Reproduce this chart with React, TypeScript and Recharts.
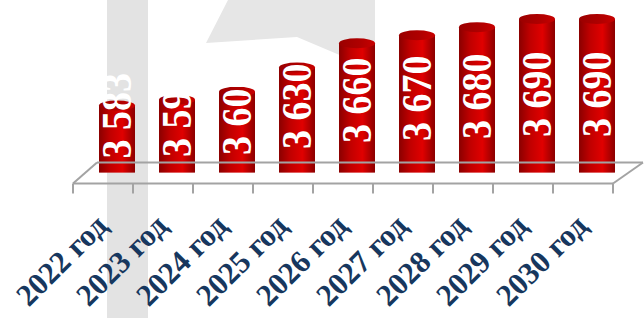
import React from 'react';
import { BarChart, Bar, XAxis, YAxis, LabelList } from 'recharts';

const categories = ['2022 год', '2023 год', '2024 год', '2025 год', '2026 год', '2027 год', '2028 год', '2029 год', '2030 год'];
const values = [3583, 3590, 3600, 3630, 3660, 3670, 3680, 3690, 3690];
const valueLabels = ['3 583', '3 590', '3 600', '3 630', '3 660', '3 670', '3 680', '3 690', '3 690'];
const yDomain: [number, number] = [3500, 3700];

const data = categories.map((name, i) => ({ name, value: values[i], label: valueLabels[i] }));

const W = 644;
const H = 318;
const AXIS_COLOR = '#a3a3a3';
const LABEL_COLOR = '#17375E';
const SERIF = '"Liberation Serif", "Times New Roman", serif';

const Cylinder = (props: any) => {
  const { x, y, width, height } = props;
  if (width == null || height == null) return null;
  const cx = x + width / 2;
  const rx = width / 2;
  return (
    <g>
      <rect x={x} y={y} width={width} height={height} fill="url(#cylBody)" />
      <ellipse cx={cx} cy={y + height} rx={rx} ry={4.5} fill="url(#cylBody)" />
      <ellipse cx={cx} cy={y} rx={rx} ry={5} fill="url(#cylTop)" />
    </g>
  );
};

const ValueLabel = (props: any) => {
  const { x, y, width, height, index } = props;
  if (width == null || height == null) return null;
  const cx = x + width / 2;
  const bottom = y + height;
  const start = bottom - (14 + 0.25 * (height - 67));
  return (
    <text
      transform={`translate(${cx},${start}) scale(1.1,1) rotate(-90)`}
      dy="0.34em"
      textAnchor="start"
      fill="#ffffff"
      fontFamily={SERIF}
      fontWeight="bold"
      fontSize={38}
    >
      {valueLabels[index]}
    </text>
  );
};

const FloorTick = (props: any) => {
  const { x, y, payload, index } = props;
  const n = categories.length;
  const half = 30;
  const fy = y + 11;
  const by = y - 10;
  const backStart = index === 0 ? x - 20 : x - half + 13;
  const backEnd = index === n - 1 ? x + 46 : x + half + 13;
  return (
    <g>
      <line x1={x - half - 14} y1={fy} x2={x + half - 14} y2={fy} stroke={AXIS_COLOR} strokeWidth={2} />
      <line x1={backStart} y1={by} x2={backEnd} y2={by} stroke={AXIS_COLOR} strokeWidth={2} />
      <line x1={x - half - 14} y1={fy} x2={x - half - 14} y2={fy + 10} stroke={AXIS_COLOR} strokeWidth={2} />
      {index === 0 && (
        <line x1={x - half - 14} y1={fy} x2={x - 20} y2={by} stroke={AXIS_COLOR} strokeWidth={2} />
      )}
      {index === n - 1 && (
        <>
          <line x1={x + half - 14} y1={fy} x2={x + half - 14} y2={fy + 10} stroke={AXIS_COLOR} strokeWidth={2} />
          <line x1={x + half - 14} y1={fy} x2={x + 46} y2={by} stroke={AXIS_COLOR} strokeWidth={2} />
        </>
      )}
      <text
        transform={`translate(${x - 8},${y + 55}) rotate(-45)`}
        textAnchor="end"
        fill={LABEL_COLOR}
        fontFamily={SERIF}
        fontWeight="bold"
        fontSize={31}
      >
        {payload.value}
      </text>
    </g>
  );
};

export default function App() {
  return (
    <div style={{ position: 'relative', width: W, height: H }}>
      <style>{`body{margin:0;}`}</style>
      <svg width={W} height={H} style={{ position: 'absolute', left: 0, top: 0 }}>
        <rect x={107} y={0} width={41} height={H} fill="#e3e3e3" />
        <polygon points="228,0 375,0 375,70 297,37 206,43" fill="#e6e6e6" />
      </svg>
      <div style={{ position: 'absolute', left: 0, top: 0 }}>
        <BarChart
          width={W}
          height={H}
          data={data}
          margin={{ top: 11, right: 17, bottom: 144.5, left: 87 }}
          barCategoryGap={0}
        >
          <defs>
            <linearGradient id="cylBody" x1="0" y1="0" x2="1" y2="0">
              <stop offset="0%" stopColor="#8a0000" />
              <stop offset="30%" stopColor="#bf0000" />
              <stop offset="65%" stopColor="#e00000" />
              <stop offset="100%" stopColor="#8c0000" />
            </linearGradient>
            <linearGradient id="cylTop" x1="0" y1="0" x2="1" y2="0">
              <stop offset="0%" stopColor="#9a0000" />
              <stop offset="60%" stopColor="#b00000" />
              <stop offset="100%" stopColor="#c80000" />
            </linearGradient>
          </defs>
          <XAxis
            dataKey="name"
            axisLine={false}
            tickLine={false}
            tickSize={0}
            tickMargin={0}
            interval={0}
            height={1}
            tick={<FloorTick />}
          />
          <YAxis hide domain={yDomain} allowDataOverflow />
          <Bar dataKey="value" barSize={36} shape={<Cylinder />} isAnimationActive={false}>
            <LabelList dataKey="label" content={<ValueLabel />} />
          </Bar>
        </BarChart>
      </div>
    </div>
  );
}
